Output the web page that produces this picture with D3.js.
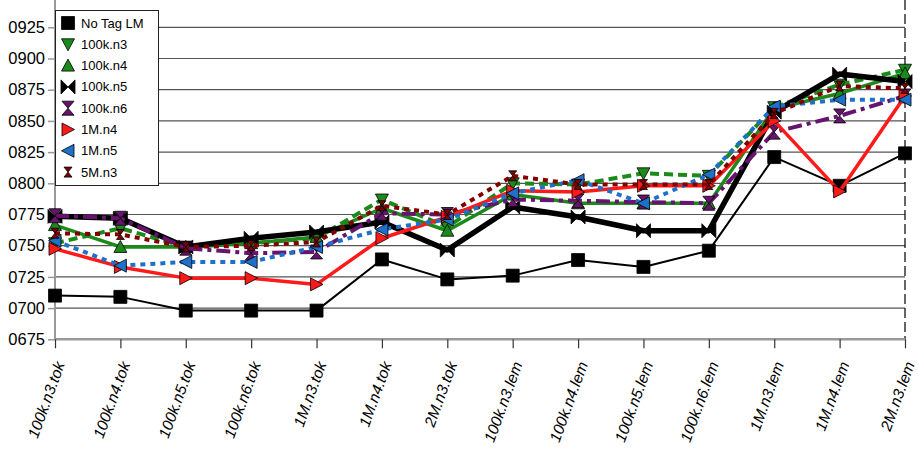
<!DOCTYPE html>
<html>
<head>
<meta charset="utf-8">
<script src="https://cdn.jsdelivr.net/npm/d3@7"></script>
<style>
  body { margin: 0; background: #fff; }
  svg { display: block; font-family: "Liberation Sans", Arial, sans-serif; }
</style>
</head>
<body>
<div id="chart"></div>
<script>
// categories on the x axis
const categories = ["100k.n3.tok", "100k.n4.tok", "100k.n5.tok", "100k.n6.tok", "1M.n3.tok", "1M.n4.tok", "2M.n3.tok",
    "100k.n3.lem", "100k.n4.lem", "100k.n5.lem", "100k.n6.lem", "1M.n3.lem", "1M.n4.lem", "2M.n3.lem"];

// y ticks and their labels (as printed on the chart)
const yTicks = [0.675, 0.700, 0.725, 0.750, 0.775, 0.800, 0.825, 0.850, 0.875, 0.900, 0.925];
const yTickLabels = ["0675", "0700", "0725", "0750", "0775", "0800", "0825", "0850", "0875", "0900", "0925"];

// series values
const noTagLM = [0.710, 0.709, 0.698, 0.698, 0.698, 0.739, 0.723, 0.726, 0.7385, 0.733, 0.746, 0.821, 0.798, 0.824];
const k100n3 = [0.752, 0.764, 0.749, 0.752, 0.756, 0.787, 0.765, 0.800, 0.799, 0.808, 0.806, 0.861, 0.879, 0.891];
const k100n4 = [0.7665, 0.749, 0.749, 0.752, 0.757, 0.780, 0.762, 0.791, 0.784, 0.784, 0.784, 0.860, 0.872, 0.888];
const k100n5 = [0.7735, 0.772, 0.749, 0.756, 0.761, 0.769, 0.7465, 0.781, 0.773, 0.762, 0.762, 0.857, 0.8875, 0.8815];
const k100n6 = [0.774, 0.772, 0.748, 0.744, 0.745, 0.776, 0.775, 0.787, 0.786, 0.785, 0.784, 0.841, 0.854, 0.870];
const m1n4 = [0.7475, 0.733, 0.724, 0.724, 0.719, 0.756, 0.773, 0.794, 0.793, 0.798, 0.798, 0.850, 0.7935, 0.870];
const m1n5 = [0.754, 0.734, 0.737, 0.737, 0.749, 0.763, 0.771, 0.792, 0.8025, 0.784, 0.807, 0.8615, 0.867, 0.867];
const m5n3 = [0.760, 0.759, 0.749, 0.750, 0.753, 0.782, 0.775, 0.806, 0.799, 0.799, 0.799, 0.856, 0.878, 0.876];

const seriesNames = ["No Tag LM", "100k.n3", "100k.n4", "100k.n5", "100k.n6", "1M.n4", "1M.n5", "5M.n3"];
const seriesValues = [noTagLM, k100n3, k100n4, k100n5, k100n6, m1n4, m1n5, m5n3];

// marker shapes
const sq = "M-6.5,-6.5H6.5V6.5H-6.5Z";
const triDown = "M-6.5,-5.5L6.5,-5.5L0,6.5Z";
const triUp = "M-6.5,5.5L6.5,5.5L0,-6.5Z";
const bowtie = "M-7,-7L0,0L-7,7Z M7,-7L0,0L7,7Z";
const hourglass = "M-6,-7L6,-7L0,0Z M-6,7L6,7L0,0Z";
const triRight = "M-6,-6.5L6.5,0L-6,6.5Z";
const triLeft = "M6,-6.5L-6.5,0L6,6.5Z";
const smallHourglass = "M-4,-5L4,-5L0,0Z M-4,5L4,5L0,0Z";

const styles = [
    { color: "#000000", width: 2, dash: null, marker: sq, mfill: "#000000" },
    { color: "#1b8a1b", width: 4, dash: "9,5", marker: triDown, mfill: "#1b8a1b" },
    { color: "#1b8a1b", width: 3.5, dash: null, marker: triUp, mfill: "#1b8a1b" },
    { color: "#000000", width: 5.5, dash: null, marker: bowtie, mfill: "#000000" },
    { color: "#66146e", width: 4, dash: "14,5,4,5", marker: hourglass, mfill: "#66146e" },
    { color: "#ff1a1a", width: 3.5, dash: null, marker: triRight, mfill: "#ff1a1a" },
    { color: "#1f70c8", width: 4, dash: "5,5", marker: triLeft, mfill: "#1f70c8" },
    { color: "#800000", width: 4, dash: "5,5", marker: smallHourglass, mfill: "#800000" }
];

const width = 918, height = 452;
const plot = { left: 55, right: 905, top: 0, bottom: 339.3 };

const svg = d3.select("#chart").append("svg")
    .attr("width", width)
    .attr("height", height);

const x = d3.scalePoint()
    .domain(categories)
    .range([plot.left, plot.right]);

const y = d3.scaleLinear()
    .domain([0.675, 0.925])
    .range([plot.bottom, 27.3]);

// gridlines
svg.append("g")
    .selectAll("line")
    .data(yTicks.slice(1))
    .join("line")
    .attr("x1", plot.left)
    .attr("x2", plot.right)
    .attr("y1", d => y(d))
    .attr("y2", d => y(d))
    .attr("stroke", "#555")
    .attr("stroke-width", 1.2);

// right border (dashed)
svg.append("line")
    .attr("x1", plot.right).attr("x2", plot.right)
    .attr("y1", 0).attr("y2", plot.bottom)
    .attr("stroke", "#000")
    .attr("stroke-width", 1.2)
    .attr("stroke-dasharray", "10,4");

// Y axis
const yAxis = svg.append("g")
    .attr("transform", `translate(${plot.left},0)`)
    .call(d3.axisLeft(y).tickValues(yTicks).tickFormat((d, i) => yTickLabels[i]).tickSize(7).tickPadding(3));
yAxis.select(".domain").attr("d", `M0,0V${plot.bottom}`).attr("stroke", "#999").attr("stroke-width", 2);
yAxis.selectAll(".tick line").attr("stroke", "#999").attr("stroke-width", 1.5);
yAxis.selectAll(".tick text")
    .attr("font-size", 16.5)
    .attr("fill", "#000")
    .style("font-family", "'Liberation Sans', Arial, sans-serif");

// X axis
const xAxis = svg.append("g")
    .attr("transform", `translate(0,${plot.bottom})`)
    .call(d3.axisBottom(x).tickSize(9).tickFormat(""));
xAxis.select(".domain").attr("d", `M${plot.left},0H${plot.right}`).attr("stroke", "#999").attr("stroke-width", 2.5);
xAxis.selectAll(".tick line").attr("stroke", "#333").attr("stroke-width", 1.2);

// X labels, rotated
svg.append("g")
    .selectAll("text")
    .data(categories)
    .join("text")
    .attr("transform", d => `translate(${x(d) + 10},${364}) rotate(-70)`)
    .attr("text-anchor", "end")
    .attr("font-size", 15.5)
    .attr("font-style", "italic")
    .attr("fill", "#000")
    .text(d => d);

// lines
const line = d3.line()
    .x((d, i) => x(categories[i]))
    .y(d => y(d));

seriesValues.forEach(function(vals, s) {
    const st = styles[s];
    svg.append("path")
        .datum(vals)
        .attr("fill", "none")
        .attr("stroke", st.color)
        .attr("stroke-width", st.width)
        .attr("stroke-dasharray", st.dash)
        .attr("stroke-linejoin", "round")
        .attr("d", line);
    svg.append("g")
        .selectAll("path")
        .data(vals)
        .join("path")
        .attr("transform", (d, i) => `translate(${x(categories[i])},${y(d)})`)
        .attr("d", st.marker)
        .attr("fill", st.mfill)
        .attr("stroke", "#000")
        .attr("stroke-width", 0.8);
});

// legend
const legend = svg.append("g").attr("transform", "translate(55,10)");
legend.append("rect")
    .attr("x", 0.5).attr("y", 0.5)
    .attr("width", 103).attr("height", 175)
    .attr("fill", "#fff")
    .attr("stroke", "#222")
    .attr("stroke-width", 1);

const items = legend.selectAll(".item")
    .data(seriesNames)
    .join("g")
    .attr("transform", (d, i) => `translate(13,${13 + i * 21.3})`);
items.append("path")
    .attr("d", (d, i) => styles[i].marker)
    .attr("fill", (d, i) => styles[i].mfill)
    .attr("stroke", "#000")
    .attr("stroke-width", 0.8);
items.append("text")
    .attr("x", 13)
    .attr("y", 0)
    .attr("dy", "0.35em")
    .attr("font-size", 13)
    .attr("fill", "#000")
    .text(d => d);
</script>
</body>
</html>
